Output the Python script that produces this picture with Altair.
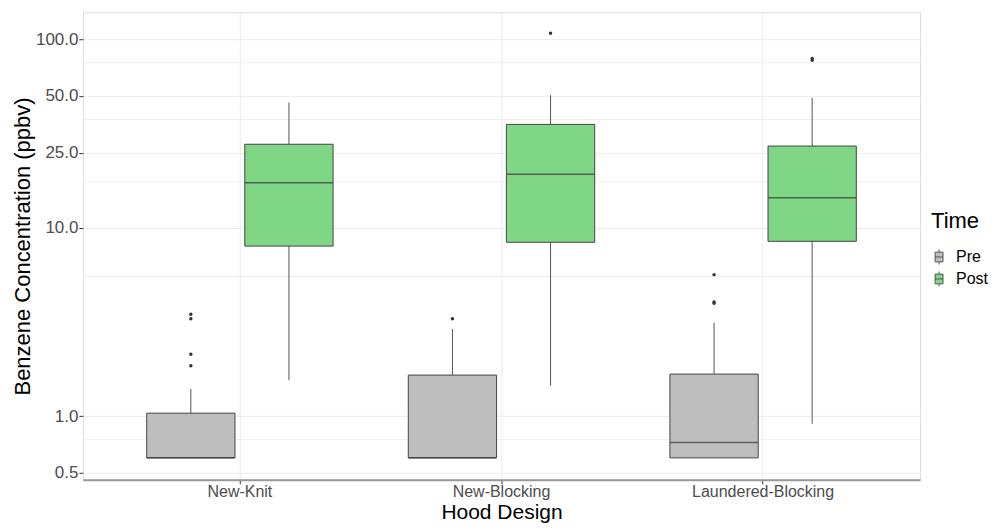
import altair as alt
import pandas as pd

designs = ["New-Knit", "New-Blocking", "Laundered-Blocking"]
times = ["Pre", "Post"]

box_design = ["New-Knit", "New-Knit", "New-Blocking", "New-Blocking",
              "Laundered-Blocking", "Laundered-Blocking"]
box_time = ["Pre", "Post", "Pre", "Post", "Pre", "Post"]
box_lower = [0.60, 1.55, 0.60, 1.45, 0.60, 0.91]
box_q1 = [0.60, 7.98, 0.60, 8.36, 0.60, 8.46]
box_median = [0.60, 17.3, 0.60, 19.2, 0.724, 14.4]
box_q3 = [1.036, 27.7, 1.65, 35.3, 1.67, 27.1]
box_upper = [1.39, 46.2, 2.90, 50.5, 3.13, 48.9]

out_design = ["New-Knit", "New-Knit", "New-Knit", "New-Knit",
              "New-Blocking", "New-Blocking",
              "Laundered-Blocking", "Laundered-Blocking", "Laundered-Blocking",
              "Laundered-Blocking", "Laundered-Blocking"]
out_time = ["Pre", "Pre", "Pre", "Pre",
            "Pre", "Post",
            "Pre", "Pre", "Pre",
            "Post", "Post"]
out_value = [3.47, 3.28, 2.13, 1.85,
             3.28, 107.6,
             5.63, 3.97, 4.03,
             79.0, 77.4]

y_ticks = [0.5, 1.0, 10.0, 25.0, 50.0, 100.0]
minor_breaks = [0.75, 5.5, 17.5, 37.5, 75.0]

box_df = pd.DataFrame({
    "design": box_design, "time": box_time, "lower": box_lower, "q1": box_q1,
    "median": box_median, "q3": box_q3, "upper": box_upper,
})
out_df = pd.DataFrame({"design": out_design, "time": out_time, "value": out_value})
minor_df = pd.DataFrame({"v": minor_breaks})

FONT = "Liberation Sans"
W, H = 838, 468

x_axis = alt.Axis(
    title="Hood Design", labelAngle=0, labelFontSize=16, labelColor="#4D4D4D",
    titleFontSize=21, titleColor="black", titleFontWeight="normal",
    tickColor="#333333", tickSize=4, domainColor="#999999", domainWidth=2,
    grid=True, gridColor="#EBEBEB", labelPadding=0,
    titleY=39, titleBaseline="alphabetic", labelFont=FONT, titleFont=FONT,
)
y_axis = alt.Axis(
    title="Benzene Concentration (ppbv)", values=y_ticks, format=".1f",
    labelFontSize=17, labelColor="#4D4D4D", titleFontSize=22, titleColor="black",
    titleFontWeight="normal", tickColor="#333333", tickSize=4, domain=False,
    grid=True, gridColor="#EBEBEB", labelPadding=1,
    titleX=-53, titleY=H / 2, titleAngle=270, titleAlign="center",
    titleBaseline="alphabetic", labelFont=FONT, titleFont=FONT,
)

x_scale = alt.Scale(domain=designs, paddingInner=0.25, paddingOuter=0.225)
xo_scale = alt.Scale(domain=times, paddingInner=0.1, paddingOuter=0.05)
y_scale = alt.Scale(type="log", domain=[0.459, 139], nice=False)

x_enc = alt.X("design:N", sort=designs, scale=x_scale, axis=x_axis)
xo_enc = alt.XOffset("time:N", sort=times, scale=xo_scale)

minor = alt.Chart(minor_df).mark_rule(color="#EFEFEF", strokeWidth=1).encode(
    y=alt.Y("v:Q", scale=y_scale, axis=y_axis)
)

whisk = alt.Chart(box_df).mark_rule(color="#555555", strokeWidth=1).encode(
    x=x_enc, xOffset=xo_enc,
    y=alt.Y("lower:Q", scale=y_scale, axis=y_axis), y2="upper:Q",
)

legend_path = "M-0.53,-0.65H0.53V0.65H-0.53Z M0,-0.65V-1 M0,0.65V1 M-0.53,0H0.53"

boxes = alt.Chart(box_df).mark_bar(stroke="#444444", strokeWidth=1).encode(
    x=x_enc, xOffset=xo_enc,
    y=alt.Y("q1:Q", scale=y_scale, axis=y_axis), y2="q3:Q",
    fill=alt.Fill(
        "time:N", sort=times,
        scale=alt.Scale(domain=times, range=["#BEBEBE", "#7FD785"]),
        legend=alt.Legend(
            title="Time", orient="none", legendX=849, legendY=199,
            titleFontSize=22, titleColor="black", titleFontWeight="normal",
            labelFontSize=16, labelColor="black", titleFont=FONT, labelFont=FONT,
            symbolType=legend_path, symbolSize=225, symbolStrokeColor="#555555",
            symbolStrokeWidth=1, rowPadding=2, titlePadding=16, labelOffset=9,
            padding=0,
        ),
    ),
)

medians = alt.Chart(box_df).mark_tick(color="#333333", thickness=1.5, size=88).encode(
    x=x_enc, xOffset=xo_enc,
    y=alt.Y("median:Q", scale=y_scale, axis=y_axis),
)

outliers = alt.Chart(out_df).mark_circle(color="#333333", size=12, opacity=1).encode(
    x=x_enc, xOffset=xo_enc,
    y=alt.Y("value:Q", scale=y_scale, axis=y_axis),
)

chart = alt.layer(minor, whisk, boxes, medians, outliers).properties(
    width=W, height=H, autosize="none",
    padding={"left": 75, "top": 4, "right": 70, "bottom": 43},
).configure_view(stroke="#777777", strokeWidth=1).configure(font=FONT)

chart.save("out.html", embed_options={"renderer": "svg", "actions": False})
